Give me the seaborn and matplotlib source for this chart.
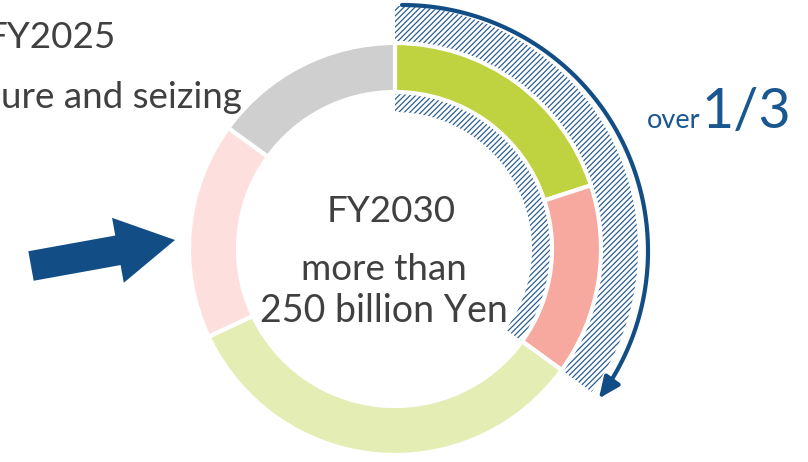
import numpy as np
import matplotlib
matplotlib.use("Agg")
import matplotlib.pyplot as plt
from matplotlib.patches import Wedge, FancyArrow, FancyArrowPatch
from matplotlib.path import Path
import seaborn as sns

# ---- data ----
segments = ["Segment A", "Segment B", "Segment C", "Segment D", "Segment E"]
shares = [20, 15, 33, 17, 15]
seg_colors = ["#bfd340", "#f8a99f", "#e4edb4", "#fde0dd", "#d0cfcf"]
highlight_n = 2  # first two segments make up "over 1/3"
center_lines = ["FY2030", "more than", "250 billion Yen"]
left_lines = ["FY2025", "ure and seizing"]

sns.set_theme(style="white")
plt.rcParams["font.family"] = ["Lato", "DejaVu Sans"]
plt.rcParams["hatch.linewidth"] = 0.9

W, H = 808, 462
fig = plt.figure(figsize=(W / 100, H / 100), dpi=100)
ax = fig.add_axes([0, 0, 1, 1])
palette = sns.color_palette(seg_colors)

cx, cy = 395, 213
r_out, ring_w = 206, 49
blue = "#124e85"
txt_gray = "#404040"

total = sum(shares)
hl_angle = 360 * sum(shares[:highlight_n]) / total

# hatched band behind highlighted part
hatch = Wedge((cx, cy), 243, 90 - hl_angle, 90, width=106,
              facecolor="white", edgecolor="#2a5f95", linewidth=0,
              hatch="//////", zorder=0.5)
ax.add_patch(hatch)

# donut
ax.pie(shares, colors=palette, startangle=90, counterclock=False,
       radius=r_out, center=(cx, cy),
       wedgeprops=dict(width=ring_w, edgecolor="white", linewidth=3))

# curved arrow
acx, acy, ar = cx + 7, cy - 2, 246
ang = np.deg2rad(np.linspace(0, hl_angle + 0.8, 120))
xs = acx + ar * np.sin(ang)
ys = acy + ar * np.cos(ang)
arc = FancyArrowPatch(path=Path(np.column_stack([xs, ys])),
                      arrowstyle="-|>,head_length=0.9,head_width=0.4",
                      mutation_scale=14, color=blue, lw=3, zorder=3)
ax.add_patch(arc)

# big left arrow
ax.add_patch(FancyArrow(31, 196, 144, 26, width=30, head_width=66,
                        head_length=58, length_includes_head=True,
                        color=blue, linewidth=0, zorder=3))

# texts
ax.text(116, 414, left_lines[0], ha="right", va="baseline", fontsize=26.5,
        color=txt_gray, zorder=0.4)
ax.text(1, 354, left_lines[1], ha="left", va="baseline", fontsize=26.5,
        color=txt_gray, zorder=0.4)
ax.text(391, 240, center_lines[0], ha="center", va="baseline", fontsize=26.5,
        color=txt_gray, zorder=4)
ax.text(384, 182, center_lines[1], ha="center", va="baseline", fontsize=26.5,
        color=txt_gray, zorder=4)
ax.text(384, 140, center_lines[2], ha="center", va="baseline", fontsize=27,
        color=txt_gray, zorder=4)
ax.text(700, 334, "over", ha="right", va="baseline", fontsize=19.5,
        color="#1a5690", zorder=4)
ax.text(702, 334, "1/3", ha="left", va="baseline", fontsize=40,
        color="#1a5690", zorder=4)

ax.set_xlim(0, W)
ax.set_ylim(0, H)
ax.set_aspect("auto")
ax.axis("off")
fig.savefig("out.png", dpi=100)
